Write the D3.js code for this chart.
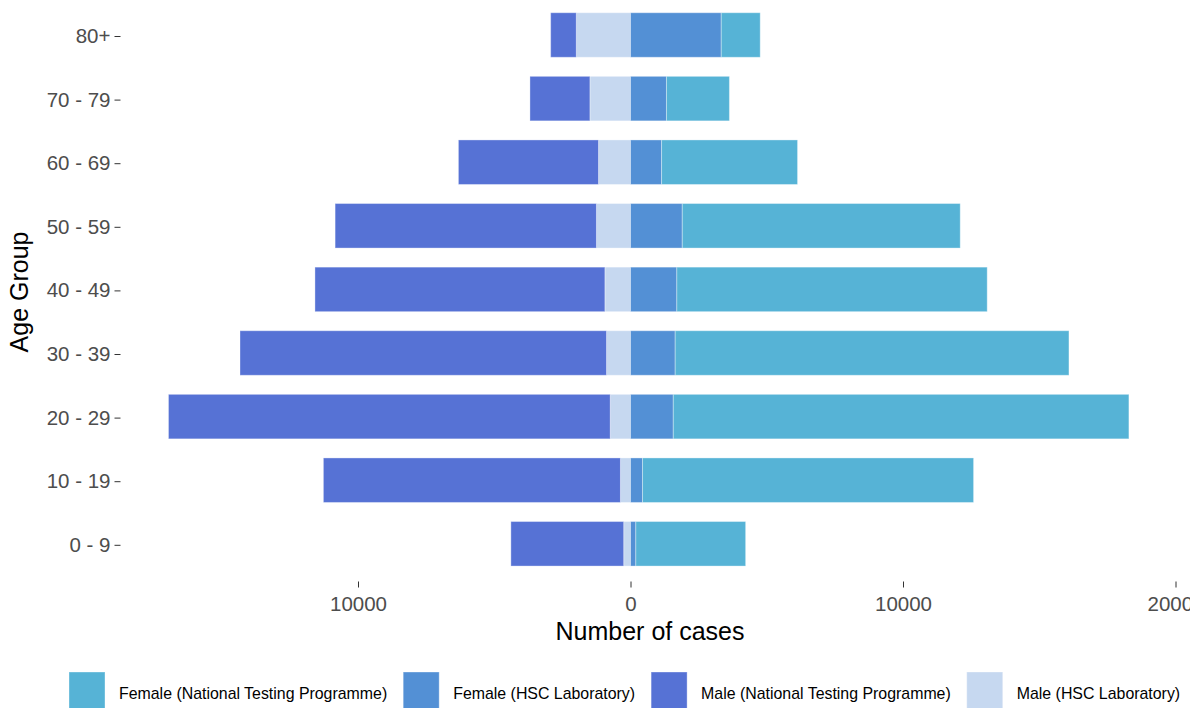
<!DOCTYPE html>
<html>
<head>
<meta charset="utf-8">
<script src="https://cdn.jsdelivr.net/npm/d3@7"></script>
<style>
body { margin: 0; background: #fff; }
svg { display: block; }
text { font-family: "Liberation Sans", Arial, sans-serif; }
</style>
</head>
<body>
<div id="chart"></div>
<script>
// values
let ageGroups = ["0 - 9", "10 - 19", "20 - 29", "30 - 39", "40 - 49", "50 - 59", "60 - 69", "70 - 79", "80+"];
let maleNTP   = [4140, 10900, 16210, 13450, 10640, 9590, 5140, 2200, 940];
let maleHSC   = [250, 370, 745, 880, 940, 1250, 1175, 1490, 1990];
let femaleHSC = [195, 440, 1570, 1640, 1700, 1900, 1140, 1320, 3330];
let femaleNTP = [4030, 12150, 16720, 14450, 11390, 10200, 4990, 2310, 1430];
let xTicks = [-10000, 0, 10000, 20000];

let keys = ["maleHSC", "maleNTP", "femaleHSC", "femaleNTP"];
let labels = {
    femaleNTP: "Female (National Testing Programme)",
    femaleHSC: "Female (HSC Laboratory)",
    maleNTP: "Male (National Testing Programme)",
    maleHSC: "Male (HSC Laboratory)"
};
let colors = {
    femaleNTP: "#56b3d6",
    femaleHSC: "#5390d5",
    maleNTP: "#5672d5",
    maleHSC: "#c6d8f0"
};
let legendOrder = ["femaleNTP", "femaleHSC", "maleNTP", "maleHSC"];

// rows for the stack, males negative
let rows = ageGroups.map((g, i) => ({
    group: g,
    maleHSC: -maleHSC[i],
    maleNTP: -maleNTP[i],
    femaleHSC: femaleHSC[i],
    femaleNTP: femaleNTP[i]
}));

let w = 1190, h = 708;

let svg = d3.select("#chart")
    .append("svg")
    .attr("width", w)
    .attr("height", h);

let xScale = d3.scaleLinear()
    .domain([-20000, 20000])
    .range([85.5, 1175.5]);

let yScale = d3.scaleBand()
    .domain(ageGroups.slice().reverse())
    .range([3.2, 575.6])
    .paddingInner(0.3)
    .paddingOuter(0.15);

let series = d3.stack()
    .keys(keys)
    .offset(d3.stackOffsetDiverging)(rows);

svg.append("g")
    .selectAll("g")
    .data(series)
    .enter()
    .append("g")
    .attr("fill", d => colors[d.key])
    .selectAll("rect")
    .data(d => d)
    .enter()
    .append("rect")
    .attr("x", d => xScale(Math.min(d[0], d[1])))
    .attr("width", d => Math.abs(xScale(d[1]) - xScale(d[0])))
    .attr("y", d => yScale(d.data.group))
    .attr("height", yScale.bandwidth())
    .attr("stroke", "#fff")
    .attr("stroke-opacity", 0.35)
    .attr("stroke-width", 1);

// axes
let xAxis = d3.axisBottom(xScale)
    .tickValues(xTicks)
    .tickFormat(d => Math.abs(d))
    .tickSize(6)
    .tickPadding(9);

let gx = svg.append("g")
    .attr("transform", "translate(0,581.5)")
    .call(xAxis);

let yAxis = d3.axisLeft(yScale)
    .tickSize(6)
    .tickPadding(4);

let gy = svg.append("g")
    .attr("transform", "translate(120.5,1.5)")
    .call(yAxis);

[gx, gy].forEach(g => {
    g.select(".domain").remove();
    g.selectAll(".tick line").attr("stroke", "#333333").attr("stroke-width", 1);
    g.selectAll(".tick text")
        .attr("fill", "#4d4d4d")
        .style("font-size", "20.5px")
        .style("font-family", "'Liberation Sans', Arial, sans-serif");
});

// titles
svg.append("text")
    .attr("x", 650)
    .attr("y", 640)
    .attr("text-anchor", "middle")
    .style("font-size", "25px")
    .attr("fill", "#000")
    .text("Number of cases");

svg.append("text")
    .attr("transform", "translate(28,292) rotate(-90)")
    .attr("text-anchor", "middle")
    .style("font-size", "25px")
    .attr("fill", "#000")
    .text("Age Group");

// legend
let legend = svg.append("g");
let lx = 69;
legendOrder.forEach(k => {
    legend.append("rect")
        .attr("x", lx)
        .attr("y", 672)
        .attr("width", 36)
        .attr("height", 40)
        .attr("fill", colors[k])
        .attr("stroke", "#fff")
        .attr("stroke-opacity", 0.35);
    let t = legend.append("text")
        .attr("x", lx + 50)
        .attr("y", 699)
        .style("font-size", "15.9px")
        .attr("fill", "#000")
        .text(labels[k]);
    lx = lx + 50 + t.node().getComputedTextLength() + 16;
});
</script>
</body>
</html>
